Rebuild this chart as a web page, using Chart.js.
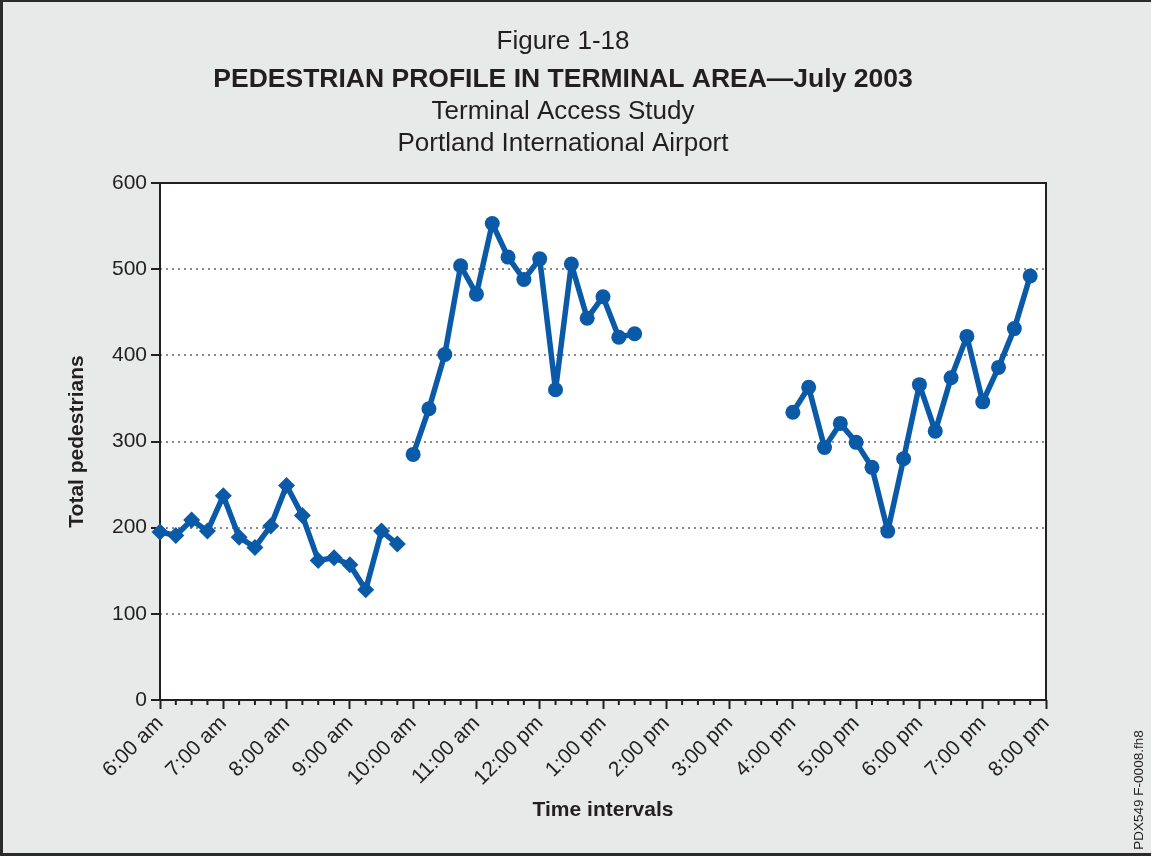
<!DOCTYPE html>
<html>
<head>
<meta charset="utf-8">
<title>Pedestrian Profile in Terminal Area - July 2003</title>
<script src="https://cdn.jsdelivr.net/npm/chart.js@4.4.1/dist/chart.umd.min.js"></script>
<style>
  html, body { margin: 0; padding: 0; background: #e8eae9; }
  canvas { display: block; }
</style>
</head>
<body>
<canvas id="pedChart" width="1151" height="856"></canvas>
<script>
// 15 minute intervals, 6:00 am to 8:00 pm
const timeSlots = [
    '6:00 am', '6:15 am', '6:30 am', '6:45 am',
    '7:00 am', '7:15 am', '7:30 am', '7:45 am',
    '8:00 am', '8:15 am', '8:30 am', '8:45 am',
    '9:00 am', '9:15 am', '9:30 am', '9:45 am',
    '10:00 am', '10:15 am', '10:30 am', '10:45 am',
    '11:00 am', '11:15 am', '11:30 am', '11:45 am',
    '12:00 pm', '12:15 pm', '12:30 pm', '12:45 pm',
    '1:00 pm', '1:15 pm', '1:30 pm', '1:45 pm',
    '2:00 pm', '2:15 pm', '2:30 pm', '2:45 pm',
    '3:00 pm', '3:15 pm', '3:30 pm', '3:45 pm',
    '4:00 pm', '4:15 pm', '4:30 pm', '4:45 pm',
    '5:00 pm', '5:15 pm', '5:30 pm', '5:45 pm',
    '6:00 pm', '6:15 pm', '6:30 pm', '6:45 pm',
    '7:00 pm', '7:15 pm', '7:30 pm', '7:45 pm',
    '8:00 pm'
];

// counts
const morningCounts = [195, 191, 209, 196, 237, 189, 177, 202, 249, 214, 162, 165, 157, 128, 196, 181];
const middayCounts = [285, 338, 401, 504, 471, 553, 514, 488, 512, 360, 506, 443, 468, 421, 425];
const eveningCounts = [334, 363, 293, 321, 299, 270, 196, 280, 366, 312, 374, 422, 346, 386, 431, 492];

const morningStart = '6:00 am';
const middayStart = '10:00 am';
const eveningStart = '4:00 pm';

const yTicks = [0, 100, 200, 300, 400, 500, 600];

const lineBlue = '#0b5aa7';
const inkColor = '#231f20';
const fontFamily = '"Liberation Sans", Arial, Helvetica, sans-serif';

function padSeries(values, start) {
    const out = timeSlots.map(() => null);
    const first = timeSlots.indexOf(start);
    values.forEach((v, i) => { out[first + i] = v; });
    return out;
}

function isHour(index) {
    const label = timeSlots[index] || '';
    return label.indexOf(':00') !== -1;
}

// background, frame, titles and the little quarter-hour ticks
const decorations = {
    id: 'decorations',
    beforeDraw(chart) {
        const ctx = chart.ctx;
        const area = chart.chartArea;
        ctx.save();
        ctx.fillStyle = '#e8eae9';
        ctx.fillRect(0, 0, chart.width, chart.height);
        ctx.fillStyle = '#ffffff';
        ctx.fillRect(area.left, area.top, area.right - area.left, area.bottom - area.top);
        ctx.fillStyle = '#2b2b2b';
        ctx.fillRect(0, 0, 3, chart.height);
        ctx.fillRect(0, 0, chart.width, 2);
        ctx.fillRect(0, chart.height - 3, chart.width, 3);
        ctx.restore();
    },
    beforeDatasetsDraw(chart) {
        const ctx = chart.ctx;
        const area = chart.chartArea;
        ctx.save();
        ctx.strokeStyle = inkColor;
        ctx.lineWidth = 2;
        ctx.strokeRect(area.left, area.top, area.right - area.left, area.bottom - area.top);

        // minor ticks
        const x = chart.scales.x;
        ctx.beginPath();
        for (let i = 0; i < timeSlots.length; i++) {
            if (isHour(i)) continue;
            const px = x.getPixelForTick(i);
            ctx.moveTo(px, area.bottom);
            ctx.lineTo(px, area.bottom + 5);
        }
        ctx.stroke();
        ctx.restore();
    },
    afterDraw(chart) {
        const ctx = chart.ctx;
        const area = chart.chartArea;
        const cx = 563;
        ctx.save();
        ctx.fillStyle = inkColor;
        ctx.textAlign = 'center';
        ctx.textBaseline = 'middle';
        ctx.font = '26px ' + fontFamily;
        ctx.fillText('Figure 1-18', cx, 42);
        ctx.font = 'bold 26.5px ' + fontFamily;
        ctx.fillText('PEDESTRIAN PROFILE IN TERMINAL AREA\u2014July 2003', cx, 80);
        ctx.font = '26px ' + fontFamily;
        ctx.fillText('Terminal Access Study', cx, 112);
        ctx.fillText('Portland International Airport', cx, 144);

        ctx.font = 'bold 21px ' + fontFamily;
        ctx.fillText('Time intervals', (area.left + area.right) / 2, 810);

        ctx.save();
        ctx.translate(77, (area.top + area.bottom) / 2);
        ctx.rotate(-Math.PI / 2);
        ctx.fillText('Total pedestrians', 0, 0);
        ctx.restore();

        ctx.save();
        ctx.translate(1139, 790);
        ctx.rotate(-Math.PI / 2);
        ctx.font = '13.5px ' + fontFamily;
        ctx.fillText('PDX549 F-0008.fh8', 0, 0);
        ctx.restore();
        ctx.restore();
    }
};

function seriesStyle(data, shape, radius) {
    return {
        data: data,
        borderColor: lineBlue,
        backgroundColor: lineBlue,
        borderWidth: 5.5,
        borderJoinStyle: 'round',
        borderCapStyle: 'round',
        tension: 0,
        spanGaps: false,
        pointStyle: shape,
        pointRadius: radius,
        pointHoverRadius: radius,
        pointBorderWidth: 0,
        pointBackgroundColor: lineBlue,
        clip: false
    };
}

const chart = new Chart(document.getElementById('pedChart').getContext('2d'), {
    type: 'line',
    data: {
        labels: timeSlots,
        datasets: [
            seriesStyle(padSeries(morningCounts, morningStart), 'rectRot', 8.5),
            seriesStyle(padSeries(middayCounts, middayStart), 'circle', 7.5),
            seriesStyle(padSeries(eveningCounts, eveningStart), 'circle', 7.5)
        ]
    },
    options: {
        responsive: false,
        devicePixelRatio: 1,
        animation: false,
        layout: { padding: { top: 183, right: 105, left: 0, bottom: 0 } },
        plugins: {
            legend: { display: false },
            title: { display: false },
            tooltip: { enabled: false }
        },
        scales: {
            x: {
                type: 'category',
                offset: false,
                border: { display: false },
                grid: {
                    drawOnChartArea: false,
                    drawTicks: true,
                    tickLength: 9,
                    tickWidth: 2,
                    tickColor: (c) => isHour(c.index) ? inkColor : 'rgba(0,0,0,0)'
                },
                ticks: {
                    autoSkip: false,
                    maxRotation: 45,
                    minRotation: 45,
                    padding: 2,
                    color: inkColor,
                    font: { family: fontFamily, size: 21 },
                    callback: function (value, index) {
                        return isHour(index) ? timeSlots[index] : '';
                    }
                },
                afterFit: (scale) => { scale.height = 156; }
            },
            y: {
                min: yTicks[0],
                max: yTicks[yTicks.length - 1],
                border: { display: false, dash: [2, 4] },
                grid: {
                    color: (c) => (c.tick && (c.tick.value === yTicks[0] || c.tick.value === yTicks[yTicks.length - 1])) ? 'rgba(0,0,0,0)' : '#8a8a8a',
                    lineWidth: 2,
                    drawTicks: true,
                    tickLength: 9,
                    tickWidth: 2,
                    tickColor: inkColor
                },
                afterBuildTicks: (scale) => { scale.ticks = yTicks.map(v => ({ value: v })); },
                ticks: {
                    padding: 4,
                    color: inkColor,
                    font: { family: fontFamily, size: 21 }
                },
                afterFit: (scale) => { scale.width = 160; }
            }
        }
    },
    plugins: [decorations]
});
</script>
</body>
</html>
